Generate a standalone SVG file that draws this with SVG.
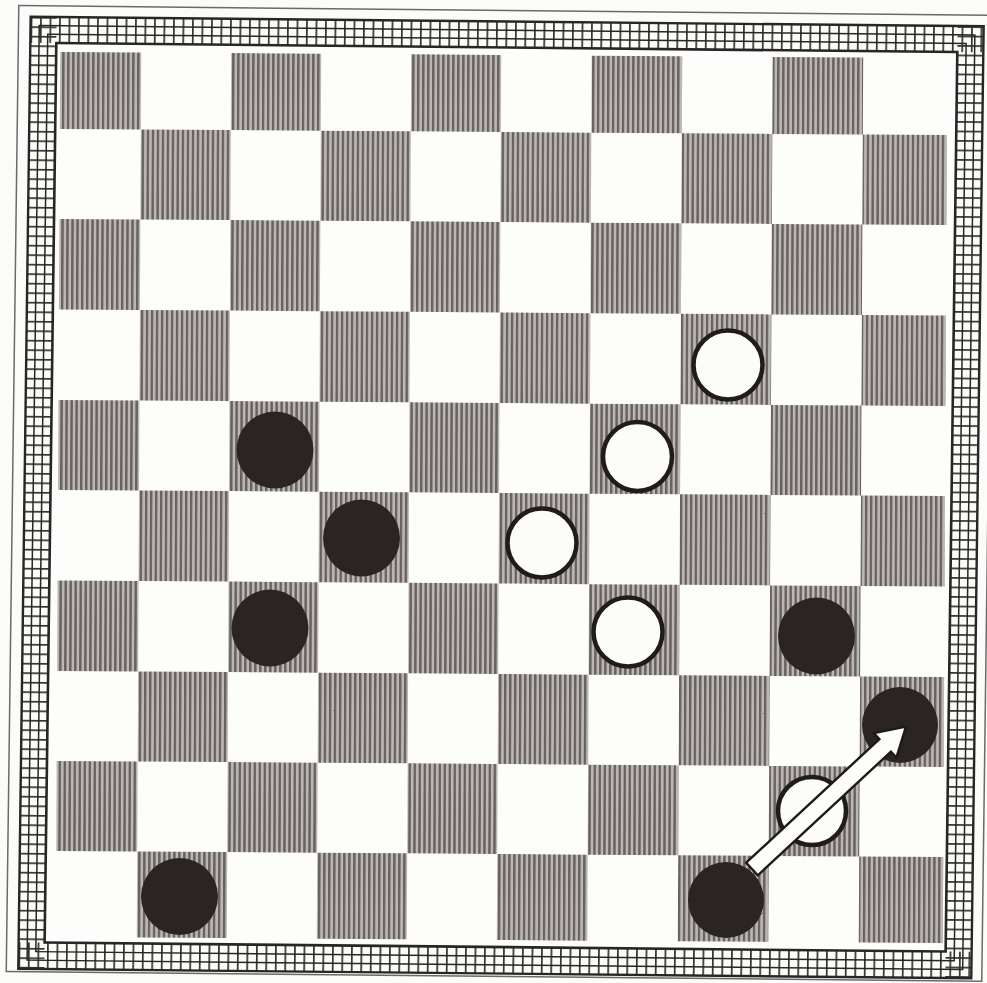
<svg xmlns="http://www.w3.org/2000/svg" width="987" height="983" viewBox="0 0 987 983">
<defs>
<pattern id="hatch" patternUnits="userSpaceOnUse" width="5" height="10">
<rect width="5" height="10" fill="#bcb7b5"/>
<rect width="2.4" height="10" fill="#676260"/>
</pattern>
<pattern id="vl" patternUnits="userSpaceOnUse" x="24.5" y="0" width="9.5" height="10">
<rect width="1.7" height="10" fill="#333"/>
</pattern>
<pattern id="hl" patternUnits="userSpaceOnUse" x="0" y="21.5" width="10" height="9.5">
<rect width="10" height="1.7" fill="#333"/>
</pattern>
<style>
.d{fill:url(#hatch)}
.bp{fill:#2a2522}
.wp{fill:#fcfcfa;stroke:#201c19;stroke-width:4.5}
.ln{fill:none;stroke:#262626}
</style>
</defs>
<rect width="987" height="983" fill="#fbfbf9"/>
<g id="border" transform="matrix(1,0.01,-0.013,1,6.435,-5)">
<rect x="12.5" y="10.4" width="975.5" height="966" fill="none" stroke="#6a6a6a" stroke-width="1.5"/>
<rect x="24.5" y="21.5" width="953" height="952" fill="#fbfbf8"/>
<rect x="24.5" y="21.5" width="953" height="26" fill="url(#vl)"/>
<rect x="24.5" y="947" width="953" height="26.5" fill="url(#vl)"/>
<rect x="24.5" y="21.5" width="26" height="952" fill="url(#hl)"/>
<rect x="951.5" y="21.5" width="26" height="952" fill="url(#hl)"/>
<rect x="50.5" y="47.5" width="901" height="899.5" fill="#fdfdfc"/>
<rect class="ln" x="24.5" y="21.5" width="953" height="952" stroke-width="2.4"/>
<rect class="ln" x="33.2" y="30.2" width="935.6" height="934.6" stroke-width="1.5"/>
<rect class="ln" x="41.8" y="38.8" width="918.4" height="917.4" stroke-width="1.5"/>
<rect class="ln" x="50.5" y="47.5" width="901" height="899.5" stroke-width="2.6"/>
</g>
<g id="squares" transform="matrix(1,0.007,-0.005,1,2.475,-3.5)">
<rect class="d" x="58" y="55" width="81" height="77"/>
<rect class="d" x="229" y="55" width="90" height="77"/>
<rect class="d" x="409" y="55" width="90" height="77"/>
<rect class="d" x="589.5" y="55" width="90.5" height="77"/>
<rect class="d" x="770.5" y="55" width="90.5" height="77"/>
<rect class="d" x="139" y="132" width="90" height="90"/>
<rect class="d" x="319" y="132" width="90" height="90"/>
<rect class="d" x="499" y="132" width="90.5" height="90"/>
<rect class="d" x="680" y="132" width="90.5" height="90"/>
<rect class="d" x="861" y="132" width="84" height="90"/>
<rect class="d" x="58" y="222" width="81" height="90.5"/>
<rect class="d" x="229" y="222" width="90" height="90.5"/>
<rect class="d" x="409" y="222" width="90" height="90.5"/>
<rect class="d" x="589.5" y="222" width="90.5" height="90.5"/>
<rect class="d" x="770.5" y="222" width="90.5" height="90.5"/>
<rect class="d" x="139" y="312.5" width="90" height="90.5"/>
<rect class="d" x="319" y="312.5" width="90" height="90.5"/>
<rect class="d" x="499" y="312.5" width="90.5" height="90.5"/>
<rect class="d" x="680" y="312.5" width="90.5" height="90.5"/>
<rect class="d" x="861" y="312.5" width="84" height="90.5"/>
<rect class="d" x="58" y="403" width="81" height="90"/>
<rect class="d" x="229" y="403" width="90" height="90"/>
<rect class="d" x="409" y="403" width="90" height="90"/>
<rect class="d" x="589.5" y="403" width="90.5" height="90"/>
<rect class="d" x="770.5" y="403" width="90.5" height="90"/>
<rect class="d" x="139" y="493" width="90" height="90.5"/>
<rect class="d" x="319" y="493" width="90" height="90.5"/>
<rect class="d" x="499" y="493" width="90.5" height="90.5"/>
<rect class="d" x="680" y="493" width="90.5" height="90.5"/>
<rect class="d" x="861" y="493" width="84" height="90.5"/>
<rect class="d" x="58" y="583.5" width="81" height="90.5"/>
<rect class="d" x="229" y="583.5" width="90" height="90.5"/>
<rect class="d" x="409" y="583.5" width="90" height="90.5"/>
<rect class="d" x="589.5" y="583.5" width="90.5" height="90.5"/>
<rect class="d" x="770.5" y="583.5" width="90.5" height="90.5"/>
<rect class="d" x="139" y="674" width="90" height="90"/>
<rect class="d" x="319" y="674" width="90" height="90"/>
<rect class="d" x="499" y="674" width="90.5" height="90"/>
<rect class="d" x="680" y="674" width="90.5" height="90"/>
<rect class="d" x="861" y="674" width="84" height="90"/>
<rect class="d" x="58" y="764" width="81" height="90"/>
<rect class="d" x="229" y="764" width="90" height="90"/>
<rect class="d" x="409" y="764" width="90" height="90"/>
<rect class="d" x="589.5" y="764" width="90.5" height="90"/>
<rect class="d" x="770.5" y="764" width="90.5" height="90"/>
<rect class="d" x="139" y="854" width="90" height="86"/>
<rect class="d" x="319" y="854" width="90" height="86"/>
<rect class="d" x="499" y="854" width="90.5" height="86"/>
<rect class="d" x="680" y="854" width="90.5" height="86"/>
<rect class="d" x="861" y="854" width="84" height="86"/>
</g>
<g id="pieces">
<g id="w1"><circle class="wp" cx="728" cy="365" r="34.5"/></g>
<g id="b1"><circle class="bp" cx="275" cy="450" r="38.5"/></g>
<g id="w2"><circle class="wp" cx="637.5" cy="456.5" r="34.5"/></g>
<g id="b2"><circle class="bp" cx="361.5" cy="538" r="38.5"/></g>
<g id="w3"><circle class="wp" cx="542" cy="543" r="34.5"/></g>
<g id="b3"><circle class="bp" cx="270" cy="628" r="38.5"/></g>
<g id="w4"><circle class="wp" cx="628" cy="632" r="34.5"/></g>
<g id="b4"><circle class="bp" cx="816.5" cy="636" r="38.5"/></g>
<g id="b5"><circle class="bp" cx="900" cy="725" r="38"/></g>
<g id="w5"><circle class="wp" cx="812" cy="811" r="34"/></g>
<g id="b6"><circle class="bp" cx="179.5" cy="896.5" r="38.5"/></g>
<g id="b7"><circle class="bp" cx="726" cy="900" r="38"/></g>
</g>
<g id="connectors">
<polygon points="746.2,862.7 879.4,739.1 874,733.2 906,726.5 896.4,757.6 890.9,751.7 757.8,875.3" fill="#fdfdfb" stroke="#1e1a18" stroke-width="2.4" stroke-linejoin="miter"/>
</g>
</svg>
